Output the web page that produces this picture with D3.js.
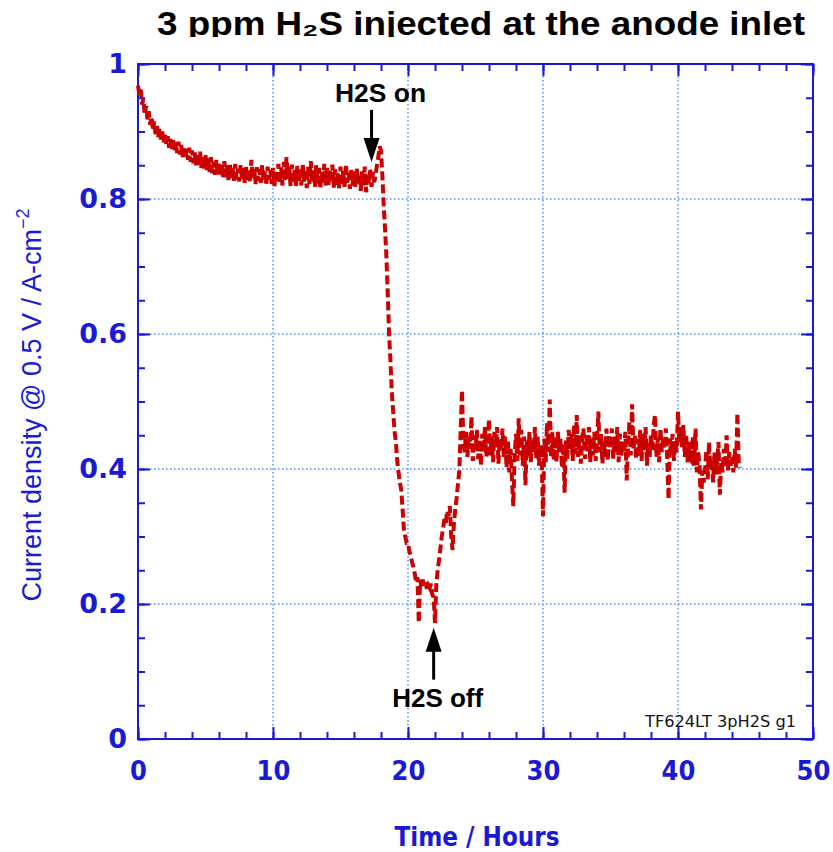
<!DOCTYPE html>
<html>
<head>
<meta charset="utf-8">
<script src="https://cdn.jsdelivr.net/npm/d3@7"></script>
<style>
  html, body { margin: 0; padding: 0; background: #fff; }
  svg { display: block; }
</style>
</head>
<body>
<svg id="chart" width="833" height="852"></svg>
<script>
// Current density at 0.5 V, logged every 0.1 h from t = 0 h (one row per hour)
const sampleStepHours = 0.1;
const density = [
  0.968, 0.955, 0.962, 0.940, 0.948, 0.925, 0.938, 0.918, 0.930, 0.910,
  0.922, 0.902, 0.915, 0.896, 0.908, 0.892, 0.905, 0.888, 0.900, 0.884,
  0.898, 0.880, 0.893, 0.876, 0.889, 0.872, 0.890, 0.870, 0.884, 0.868,
  0.885, 0.866, 0.880, 0.862, 0.878, 0.860, 0.874, 0.858, 0.876, 0.855,
  0.872, 0.853, 0.869, 0.850, 0.866, 0.848, 0.870, 0.846, 0.862, 0.845,
  0.865, 0.843, 0.860, 0.840, 0.862, 0.838, 0.855, 0.836, 0.858, 0.835,
  0.854, 0.834, 0.852, 0.830, 0.856, 0.832, 0.850, 0.828, 0.853, 0.831,
  0.848, 0.827, 0.852, 0.829, 0.845, 0.826, 0.850, 0.830, 0.846, 0.824,
  0.849, 0.828, 0.843, 0.825, 0.858, 0.830, 0.846, 0.822, 0.847, 0.827,
  0.844, 0.824, 0.850, 0.826, 0.842, 0.820, 0.848, 0.828, 0.843, 0.822,
  0.846, 0.818, 0.840, 0.825, 0.852, 0.823, 0.847, 0.820, 0.855, 0.827,
  0.862, 0.830, 0.848, 0.819, 0.851, 0.826, 0.843, 0.817, 0.849, 0.824,
  0.845, 0.820, 0.852, 0.826, 0.841, 0.816, 0.848, 0.822, 0.856, 0.825,
  0.843, 0.818, 0.850, 0.823, 0.846, 0.815, 0.840, 0.824, 0.852, 0.820,
  0.846, 0.819, 0.842, 0.826, 0.851, 0.817, 0.844, 0.821, 0.838, 0.816,
  0.848, 0.822, 0.843, 0.818, 0.852, 0.824, 0.839, 0.815, 0.845, 0.820,
  0.841, 0.818, 0.846, 0.823, 0.837, 0.812, 0.842, 0.819, 0.848, 0.810,
  0.838, 0.822, 0.845, 0.818, 0.840, 0.825, 0.836, 0.850, 0.862, 0.878,
  0.872, 0.835, 0.790, 0.755, 0.715, 0.660, 0.600, 0.560, 0.515, 0.485,
  0.457, 0.440, 0.413, 0.395, 0.380, 0.369, 0.340, 0.310, 0.300, 0.290,
  0.290, 0.278, 0.272, 0.262, 0.255, 0.245, 0.232, 0.240, 0.172, 0.236,
  0.226, 0.236, 0.225, 0.232, 0.222, 0.228, 0.224, 0.230, 0.214, 0.210,
  0.172, 0.231, 0.250, 0.265, 0.282, 0.300, 0.312, 0.326, 0.320, 0.338,
  0.330, 0.345, 0.300, 0.280, 0.319, 0.340, 0.357, 0.378, 0.397, 0.456,
  0.517, 0.440, 0.425, 0.455, 0.418, 0.446, 0.430, 0.478, 0.412, 0.450,
  0.428, 0.458, 0.415, 0.445, 0.405, 0.452, 0.425, 0.462, 0.418, 0.440,
  0.474, 0.420, 0.448, 0.410, 0.455, 0.432, 0.462, 0.408, 0.445, 0.428,
  0.460, 0.415, 0.448, 0.402, 0.441, 0.395, 0.430, 0.385, 0.345, 0.420,
  0.452, 0.412, 0.475, 0.420, 0.458, 0.405, 0.448, 0.376, 0.442, 0.418,
  0.455, 0.410, 0.442, 0.425, 0.462, 0.415, 0.450, 0.405, 0.436, 0.420,
  0.330, 0.445, 0.410, 0.468, 0.425, 0.503, 0.418, 0.455, 0.412, 0.448,
  0.410, 0.455, 0.425, 0.445, 0.402, 0.438, 0.365, 0.442, 0.415, 0.458,
  0.428, 0.452, 0.412, 0.466, 0.422, 0.480, 0.418, 0.450, 0.408, 0.444,
  0.460, 0.415, 0.450, 0.426, 0.462, 0.410, 0.447, 0.420, 0.455, 0.412,
  0.438, 0.485, 0.425, 0.452, 0.408, 0.443, 0.418, 0.460, 0.412, 0.450,
  0.430, 0.460, 0.415, 0.448, 0.425, 0.462, 0.410, 0.452, 0.420, 0.440,
  0.425, 0.455, 0.383, 0.430, 0.470, 0.420, 0.496, 0.428, 0.450, 0.415,
  0.445, 0.420, 0.458, 0.412, 0.452, 0.428, 0.462, 0.405, 0.440, 0.418,
  0.452, 0.428, 0.465, 0.480, 0.418, 0.445, 0.410, 0.460, 0.425, 0.448,
  0.430, 0.460, 0.415, 0.355, 0.445, 0.420, 0.452, 0.412, 0.438, 0.425,
  0.485, 0.440, 0.462, 0.430, 0.465, 0.418, 0.452, 0.410, 0.440, 0.415,
  0.412, 0.448, 0.405, 0.460, 0.395, 0.425, 0.405, 0.340, 0.398, 0.380,
  0.398, 0.428, 0.385, 0.440, 0.400, 0.415, 0.380, 0.425, 0.392, 0.412,
  0.440, 0.362, 0.410, 0.395, 0.430, 0.402, 0.450, 0.398, 0.425, 0.405,
  0.418, 0.395, 0.430, 0.402, 0.483, 0.410, 0.402
];

const xMajorTicks = [0, 10, 20, 30, 40, 50];
const yMajorTicks = [0, 0.2, 0.4, 0.6, 0.8, 1];
const yTickLabels = ["0", "0.2", "0.4", "0.6", "0.8", "1"];

// Event markers: gas switched on / off
const events = [
  { label: "H2S on",  hour: 17.3, value: 0.855, dir: "down" },
  { label: "H2S off", hour: 21.9, value: 0.165, dir: "up" }
];

const titleText = "3 ppm H\u2082S injected at the anode inlet";
const runId = "TF624LT 3pH2S g1";

const svg = d3.select("#chart");
const frame = { left: 138, right: 813, top: 64, bottom: 739 };
const blue = "#1a1ad6";
const gridBlue = "#5b8ef5";
const red = "#cc0000";

const x = d3.scaleLinear().domain([0, 50]).range([frame.left, frame.right]);
const y = d3.scaleLinear().domain([0, 1]).range([frame.bottom, frame.top]);

// Title (clipped along its lower edge)
svg.append("defs").append("clipPath").attr("id", "titleClip")
  .append("rect").attr("x", 0).attr("y", 0).attr("width", 833).attr("height", 37);
svg.append("text")
  .attr("clip-path", "url(#titleClip)")
  .attr("x", 481).attr("y", 35)
  .attr("text-anchor", "middle")
  .attr("font-family", "Liberation Sans, Arial, sans-serif")
  .attr("font-weight", "bold")
  .attr("font-size", 33)
  .attr("textLength", 648)
  .attr("lengthAdjust", "spacingAndGlyphs")
  .attr("fill", "#000")
  .text(titleText);

// Dotted grid at major ticks
const grid = svg.append("g");
grid.selectAll("line.gx").data(xMajorTicks.slice(1, -1)).join("line")
  .attr("x1", d => x(d)).attr("x2", d => x(d))
  .attr("y1", frame.top).attr("y2", frame.bottom)
  .attr("stroke", gridBlue).attr("stroke-width", 1.5)
  .attr("stroke-dasharray", "1.5,2.5");
grid.selectAll("line.gy").data(yMajorTicks.slice(1, -1)).join("line")
  .attr("y1", d => y(d)).attr("y2", d => y(d))
  .attr("x1", frame.left).attr("x2", frame.right)
  .attr("stroke", gridBlue).attr("stroke-width", 1.5)
  .attr("stroke-dasharray", "1.5,2.5");

// Axes: inward ticks on all four sides
const xMinor = d3.range(0, 50.001, 2);
const yMinor = d3.range(0, 1.0001, 0.05);
function styleAxis(g) {
  g.select(".domain").remove();
  g.selectAll(".tick line").attr("stroke", blue).attr("stroke-width", 2);
}
const bottomAxis = svg.append("g").attr("transform", `translate(0,${frame.bottom})`)
  .call(d3.axisBottom(x).tickValues(xMinor).tickSize(-7).tickFormat(""));
styleAxis(bottomAxis);
const bottomMajor = svg.append("g").attr("transform", `translate(0,${frame.bottom})`)
  .call(d3.axisBottom(x).tickValues(xMajorTicks).tickSize(-12).tickFormat(d3.format("d")));
styleAxis(bottomMajor);
bottomMajor.selectAll(".tick text")
  .attr("y", 22).attr("dy", "0.71em")
  .attr("fill", blue).attr("font-size", 27).attr("font-weight", "bold")
  .attr("font-family", "DejaVu Sans Condensed, DejaVu Sans, sans-serif");

const topAxis = svg.append("g").attr("transform", `translate(0,${frame.top})`)
  .call(d3.axisTop(x).tickValues(xMinor).tickSize(-7).tickFormat(""));
styleAxis(topAxis);
const topMajor = svg.append("g").attr("transform", `translate(0,${frame.top})`)
  .call(d3.axisTop(x).tickValues(xMajorTicks).tickSize(-12).tickFormat(""));
styleAxis(topMajor);

const leftAxis = svg.append("g").attr("transform", `translate(${frame.left},0)`)
  .call(d3.axisLeft(y).tickValues(yMinor).tickSize(-7).tickFormat(""));
styleAxis(leftAxis);
const leftMajor = svg.append("g").attr("transform", `translate(${frame.left},0)`)
  .call(d3.axisLeft(y).tickValues(yMajorTicks).tickSize(-12)
    .tickFormat((d, i) => yTickLabels[i]));
styleAxis(leftMajor);
leftMajor.selectAll(".tick text")
  .attr("x", -11)
  .attr("fill", blue).attr("font-size", 27).attr("font-weight", "bold")
  .attr("font-family", "DejaVu Sans, sans-serif");

const rightAxis = svg.append("g").attr("transform", `translate(${frame.right},0)`)
  .call(d3.axisRight(y).tickValues(yMinor).tickSize(-7).tickFormat(""));
styleAxis(rightAxis);
const rightMajor = svg.append("g").attr("transform", `translate(${frame.right},0)`)
  .call(d3.axisRight(y).tickValues(yMajorTicks).tickSize(-12).tickFormat(""));
styleAxis(rightMajor);

// Plot frame
svg.append("rect")
  .attr("x", frame.left).attr("y", frame.top)
  .attr("width", frame.right - frame.left).attr("height", frame.bottom - frame.top)
  .attr("fill", "none").attr("stroke", blue).attr("stroke-width", 2);

// Data trace
const line = d3.line()
  .x((d, i) => x(i * sampleStepHours))
  .y(d => y(d));
svg.append("path")
  .datum(density)
  .attr("d", line)
  .attr("fill", "none")
  .attr("stroke", red)
  .attr("stroke-width", 4)
  .attr("stroke-dasharray", "9,4");

// Event arrows and labels
events.forEach(ev => {
  const ax = x(ev.hour);
  const tipY = y(ev.value);
  const g = svg.append("g");
  const sign = ev.dir === "down" ? -1 : 1; // direction from tip back to tail
  const headLen = 24, headHalf = 8, shaftLen = 52;
  g.append("line")
    .attr("x1", ax).attr("x2", ax)
    .attr("y1", tipY + sign * (headLen - 2)).attr("y2", tipY + sign * shaftLen)
    .attr("stroke", "#000").attr("stroke-width", 3);
  g.append("path")
    .attr("d", `M${ax},${tipY} L${ax - headHalf},${tipY + sign * headLen} L${ax + headHalf},${tipY + sign * headLen} Z`)
    .attr("fill", "#000");
  g.append("text")
    .attr("x", ax + (ev.dir === "down" ? 9 : 4))
    .attr("y", ev.dir === "down" ? tipY - shaftLen - 8 : tipY + shaftLen + 27)
    .attr("text-anchor", "middle")
    .attr("font-family", "Liberation Sans, Arial, sans-serif")
    .attr("font-weight", "bold")
    .attr("font-size", 26)
    .attr("textLength", 91)
    .attr("lengthAdjust", "spacingAndGlyphs")
    .attr("fill", "#000")
    .text(ev.label);
});

// Run identifier
svg.append("text")
  .attr("x", frame.right - 17).attr("y", 727)
  .attr("text-anchor", "end")
  .attr("font-family", "DejaVu Sans, sans-serif")
  .attr("font-size", 16)
  .attr("textLength", 151)
  .attr("lengthAdjust", "spacingAndGlyphs")
  .attr("fill", "#111")
  .text(runId);

// Axis titles
svg.append("text")
  .attr("x", 477).attr("y", 846)
  .attr("text-anchor", "middle")
  .attr("font-family", "DejaVu Sans Condensed, DejaVu Sans, sans-serif")
  .attr("font-weight", "bold")
  .attr("font-size", 26)
  .attr("textLength", 165)
  .attr("lengthAdjust", "spacingAndGlyphs")
  .attr("fill", blue)
  .text("Time / Hours");

const yTitle = svg.append("text")
  .attr("transform", "translate(41,405) rotate(-90)")
  .attr("text-anchor", "middle")
  .attr("font-family", "Liberation Sans, Arial, sans-serif")
  .attr("font-size", 27)
  .attr("fill", blue);
yTitle.append("tspan").text("Current density @ 0.5 V / A-cm");
yTitle.append("tspan").attr("dy", -12).attr("font-size", 18).text("\u22122");
</script>
</body>
</html>
